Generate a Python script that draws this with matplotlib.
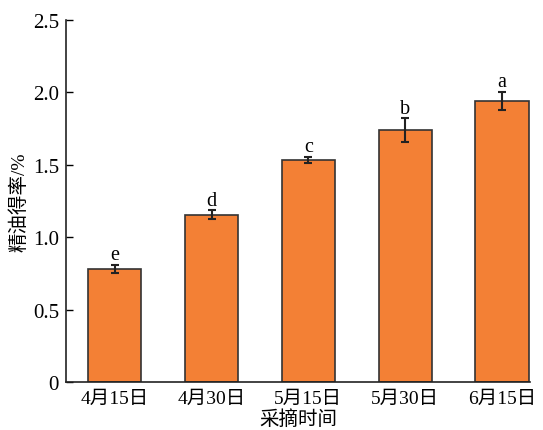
import matplotlib
matplotlib.use("Agg")
import matplotlib.pyplot as plt
from matplotlib.ticker import FuncFormatter

categories = ["4月15日", "4月30日", "5月15日", "5月30日", "6月15日"]
values = [0.78, 1.155, 1.535, 1.74, 1.94]
errors = [0.03, 0.03, 0.02, 0.08, 0.063]
letters = ["e", "d", "c", "b", "a"]
yticks = [0, 0.5, 1.0, 1.5, 2.0, 2.5]

plt.rcParams['font.family'] = ['Liberation Serif', 'Noto Sans CJK SC', 'DejaVu Sans']
plt.rcParams['mathtext.fontset'] = 'stix'

fig = plt.figure(figsize=(5.43, 4.31), dpi=100)
ax = fig.add_axes([66/543, 1-383/431, (530-66)/543, (383-21)/431])

x = list(range(len(categories)))
ax.bar(x, values, width=0.55, color="#F38035", edgecolor="#333333", linewidth=1.2, zorder=2)
ax.errorbar(x, values, yerr=errors, fmt="none", ecolor="#222222", elinewidth=1.5,
            capsize=3, capthick=1.5, zorder=3)
for xi, v, e, l in zip(x, values, errors, letters):
    ax.text(xi, v + e + 0.005, l, ha="center", va="bottom", fontsize=14.5)

ax.set_xlim(-0.505, 4.29)
ax.set_ylim(0, 2.5)
ax.set_yticks(yticks)
ax.yaxis.set_major_formatter(FuncFormatter(lambda v, p: "0" if v == 0 else f"{v:.1f}"))
ax.set_xticks(x)
ax.set_xticklabels(categories)
ax.tick_params(axis="y", direction="in", length=5, width=1, labelsize=15, pad=5)
ax.tick_params(axis="x", length=0, labelsize=14, pad=6)
for s in ["top", "right"]:
    ax.spines[s].set_visible(False)
for s in ["left", "bottom"]:
    ax.spines[s].set_linewidth(1.2)
    ax.spines[s].set_color("#222222")

ax.set_ylabel("精油得率/%", fontsize=14, labelpad=3)
ax.set_xlabel("采摘时间", fontsize=14, labelpad=1)

fig.savefig("out.png", dpi=100)
